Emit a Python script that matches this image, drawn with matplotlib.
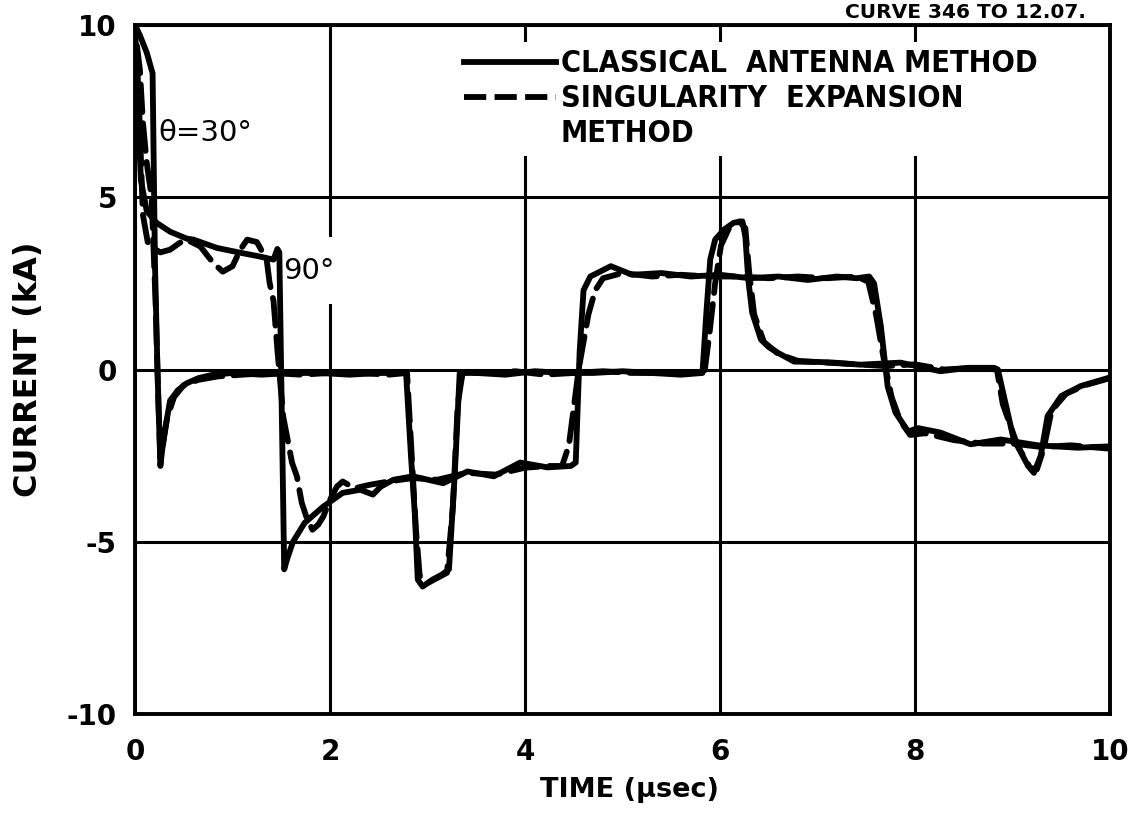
import matplotlib
matplotlib.use("Agg")
import matplotlib.pyplot as plt
from matplotlib import font_manager
from matplotlib.lines import Line2D

# Antenna current vs. time; time in microseconds, current in kA
# Classical antenna method, theta = 30 deg
cam30_t = [0.00, 0.05, 0.12, 0.18, 0.205, 0.23, 0.26, 0.28, 0.31, 0.36, 0.44, 0.53, 0.65, 0.80,
           1.00, 1.30, 1.60, 1.90, 2.20, 2.50, 2.78, 2.83, 2.87, 2.90, 2.95, 3.05, 3.15, 3.22,
           3.28, 3.33, 3.50, 3.80, 4.10, 4.40, 4.70, 5.00, 5.30, 5.60, 5.82, 5.86, 5.90, 5.95,
           6.04, 6.14, 6.23, 6.26, 6.29, 6.33, 6.42, 6.50, 6.59, 6.76, 7.00, 7.17, 7.44, 7.85,
           8.26, 8.55, 8.81, 8.85, 9.01, 9.16, 9.22, 9.29, 9.36, 9.50, 9.70, 10.00]
cam30_i = [10.0, 9.7, 9.2, 8.6, 3.0, 0.0, -2.8, -2.3, -1.7, -0.9, -0.6, -0.4, -0.25, -0.15,
           -0.1, -0.15, -0.1, -0.1, -0.15, -0.1, -0.1, -2.5, -4.2, -6.1, -6.3, -6.1, -5.95, -5.8,
           -3.0, -0.1, -0.1, -0.15, -0.05, -0.1, -0.1, -0.05, -0.1, -0.15, -0.1, 1.65, 3.2, 3.77,
           4.06, 4.26, 4.3, 3.85, 2.6, 1.65, 0.87, 0.65, 0.49, 0.23, 0.22, 0.2, 0.14, 0.2,
           -0.05, 0.05, 0.05, 0.0, -2.0, -2.8, -3.0, -2.5, -1.35, -0.77, -0.48, -0.23]

# Classical antenna method, theta = 90 deg
cam90_t = [0.00, 0.03, 0.06, 0.12, 0.22, 0.36, 0.53, 0.60, 0.84, 1.08, 1.28, 1.42, 1.46, 1.48,
           1.53, 1.56, 1.62, 1.74, 1.93, 2.13, 2.31, 2.44, 2.52, 2.65, 2.85, 3.16, 3.41, 3.68,
           3.95, 4.23, 4.47, 4.52, 4.56, 4.60, 4.67, 4.88, 5.10, 5.40, 5.70, 6.00, 6.30, 6.60,
           6.90, 7.20, 7.40, 7.53, 7.58, 7.65, 7.72, 7.80, 7.93, 8.03, 8.26, 8.57, 8.88, 9.26,
           9.67, 10.00]
cam90_i = [10.0, 7.5, 5.5, 4.6, 4.26, 4.0, 3.8, 3.77, 3.53, 3.39, 3.28, 3.19, 3.5, 3.4,
           -5.8, -5.5, -5.0, -4.45, -3.98, -3.58, -3.49, -3.63, -3.4, -3.2, -3.1, -3.3, -2.96, -3.1,
           -2.7, -2.84, -2.8, -2.7, 0.5, 2.3, 2.7, 3.0, 2.75, 2.8, 2.7, 2.75, 2.65, 2.7,
           2.6, 2.7, 2.65, 2.7, 2.5, 1.25, -0.5, -1.25, -1.8, -1.7, -1.83, -2.17, -2.03, -2.2,
           -2.27, -2.23]

# Singularity expansion method, theta = 30 deg
sem30_t = [0.02, 0.05, 0.08, 0.12, 0.17, 0.21, 0.24, 0.26, 0.29, 0.33, 0.40, 0.50, 0.65, 0.85,
           1.10, 1.40, 1.70, 2.00, 2.30, 2.60, 2.79, 2.84, 2.88, 2.92, 3.00, 3.10, 3.20, 3.26,
           3.31, 3.36, 3.60, 3.90, 4.20, 4.50, 4.80, 5.10, 5.40, 5.70, 5.84, 5.89, 5.95, 6.01,
           6.10, 6.20, 6.26, 6.30, 6.35, 6.45, 6.60, 6.80, 7.10, 7.40, 7.70, 8.00, 8.30, 8.60,
           8.84, 8.90, 9.05, 9.18, 9.25, 9.32, 9.40, 9.55, 9.75, 10.00]
sem30_i = [9.4, 8.7, 7.2, 6.0, 5.0, 2.0, -1.0, -2.6, -2.1, -1.4, -0.8, -0.45, -0.3, -0.2,
           -0.15, -0.1, -0.15, -0.1, -0.1, -0.15, -0.1, -2.6, -4.6, -6.0, -6.2, -6.05, -5.9, -4.0,
           -1.0, -0.1, -0.1, -0.05, -0.15, -0.1, -0.05, -0.1, -0.1, -0.1, -0.1, 1.0, 2.5, 3.6,
           4.15, 4.3, 4.1, 2.8, 1.6, 0.8, 0.45, 0.25, 0.2, 0.15, 0.1, 0.15, 0.0, 0.05,
           0.0, -1.0, -2.2, -2.85, -2.9, -2.3, -1.2, -0.7, -0.45, -0.25]

# Singularity expansion method, theta = 90 deg
sem90_t = [0.02, 0.05, 0.08, 0.13, 0.20, 0.26, 0.36, 0.46, 0.53, 0.67, 0.80, 0.90, 1.00, 1.08,
           1.15, 1.25, 1.35, 1.38, 1.42, 1.46, 1.52, 1.61, 1.66, 1.71, 1.76, 1.82, 1.88, 1.93,
           2.00, 2.07, 2.13, 2.25, 2.40, 2.60, 2.85, 3.10, 3.40, 3.70, 4.00, 4.25, 4.38, 4.45,
           4.55, 4.65, 4.72, 4.80, 5.00, 5.30, 5.60, 5.90, 6.20, 6.50, 6.80, 7.10, 7.40, 7.52,
           7.60, 7.68, 7.76, 7.85, 7.95, 8.10, 8.40, 8.70, 9.00, 9.30, 9.60, 10.00]
sem90_i = [9.0, 7.0, 4.5, 3.7, 3.5, 3.4, 3.48, 3.68, 3.77, 3.57, 3.1, 2.84, 3.0, 3.48,
           3.77, 3.7, 3.19, 2.52, 2.0, 0.58, -1.37, -2.7, -3.1, -3.87, -4.3, -4.65, -4.5, -4.27,
           -3.78, -3.4, -3.25, -3.45, -3.35, -3.25, -3.15, -3.2, -3.0, -3.05, -2.85, -2.8, -2.8, -2.2,
           0.0, 1.6, 2.3, 2.65, 2.8, 2.7, 2.75, 2.7, 2.7, 2.65, 2.7, 2.65, 2.7, 2.55,
           1.6, 0.3, -0.8, -1.5, -1.9, -1.85, -2.05, -2.15, -2.15, -2.25, -2.2, -2.3]

x_ticks = [0, 2, 4, 6, 8, 10]
x_tick_labels = ["0", "2", "4", "6", "8", "10"]
y_ticks = [-10, -5, 0, 5, 10]
y_tick_labels = ["-10", "-5", "0", "5", "10"]
legend_labels = ["CLASSICAL  ANTENNA METHOD", "SINGULARITY  EXPANSION", "METHOD"]
curve_labels = [(0.24, 6.87, "\u03b8=30\u00b0"), (1.52, 2.87, "90\u00b0")]
header_text = "CURVE 346 TO 12.07."

plt.rcParams["lines.scale_dashes"] = False
plt.rcParams["font.family"] = ["DejaVu Sans"]

# pick a narrow bold face for the legend lettering
installed = font_manager.fontManager.ttflist
if any(f.name == "DejaVu Sans" and f.stretch == "condensed" for f in installed):
    legend_font = font_manager.FontProperties(family="DejaVu Sans", stretch="condensed",
                                              weight="bold", size=22)
elif any(f.name == "Liberation Sans Narrow" for f in installed):
    legend_font = font_manager.FontProperties(family="Liberation Sans Narrow",
                                              weight="bold", size=25)
else:
    legend_font = font_manager.FontProperties(family="DejaVu Sans", weight="bold", size=20)

fig = plt.figure(figsize=(11.3, 8.15), dpi=100)
ax = fig.add_axes([0.1195, 0.1239, 0.8628, 0.8454])
ax.set_xlim(0, 10)
ax.set_ylim(-10, 10)

line_kw = dict(color="black", lw=4.2, solid_joinstyle="round", solid_capstyle="round",
               dash_capstyle="round")
ax.plot(cam90_t, cam90_i, **line_kw)
ax.plot(cam30_t, cam30_i, **line_kw)
ax.plot(sem90_t, sem90_i, ls=(0, (20, 8)), **line_kw)
ax.plot(sem30_t, sem30_i, ls=(0, (20, 8)), **line_kw)

ax.set_xticks(x_ticks, x_tick_labels)
ax.set_yticks(y_ticks, y_tick_labels)
ax.tick_params(axis="both", length=0, labelsize=20)
ax.tick_params(axis="x", pad=17)
ax.tick_params(axis="y", pad=13)
for lab in ax.get_xticklabels() + ax.get_yticklabels():
    lab.set_fontweight("bold")

ax.set_axisbelow(True)
ax.grid(True, color="black", lw=2.2)
for side in ax.spines.values():
    side.set_linewidth(2.8)

ax.set_xlabel("TIME (\u03bcsec)", fontsize=19.5, fontweight="bold")
ax.xaxis.set_label_coords(0.507, -0.0914)
ax.set_ylabel("CURRENT (kA)", fontsize=23, fontweight="bold")
ax.yaxis.set_label_coords(-0.093, 0.5)

for x, y, s in curve_labels:
    ax.text(x, y, s, fontsize=21, ha="left", va="center", zorder=1.5,
            bbox=dict(facecolor="white", edgecolor="none", pad=14))

handles = [Line2D([], [], color="black", lw=4.2),
           Line2D([], [], color="black", lw=4.2, ls=(0, (16, 6))),
           Line2D([], [], lw=0)]
ax.legend(handles, legend_labels, loc="upper left", bbox_to_anchor=(0.33, 0.976),
          frameon=True, fancybox=False, framealpha=1, facecolor="white", edgecolor="none",
          handlelength=3.0, handletextpad=0.15, labelspacing=0.2, borderpad=0.25,
          borderaxespad=0, prop=legend_font)

fig.text(0.748, 1 - 18 / 815, header_text, ha="left", va="baseline",
         fontsize=14.5, fontweight="bold")

fig.savefig("out.png", dpi=100)
